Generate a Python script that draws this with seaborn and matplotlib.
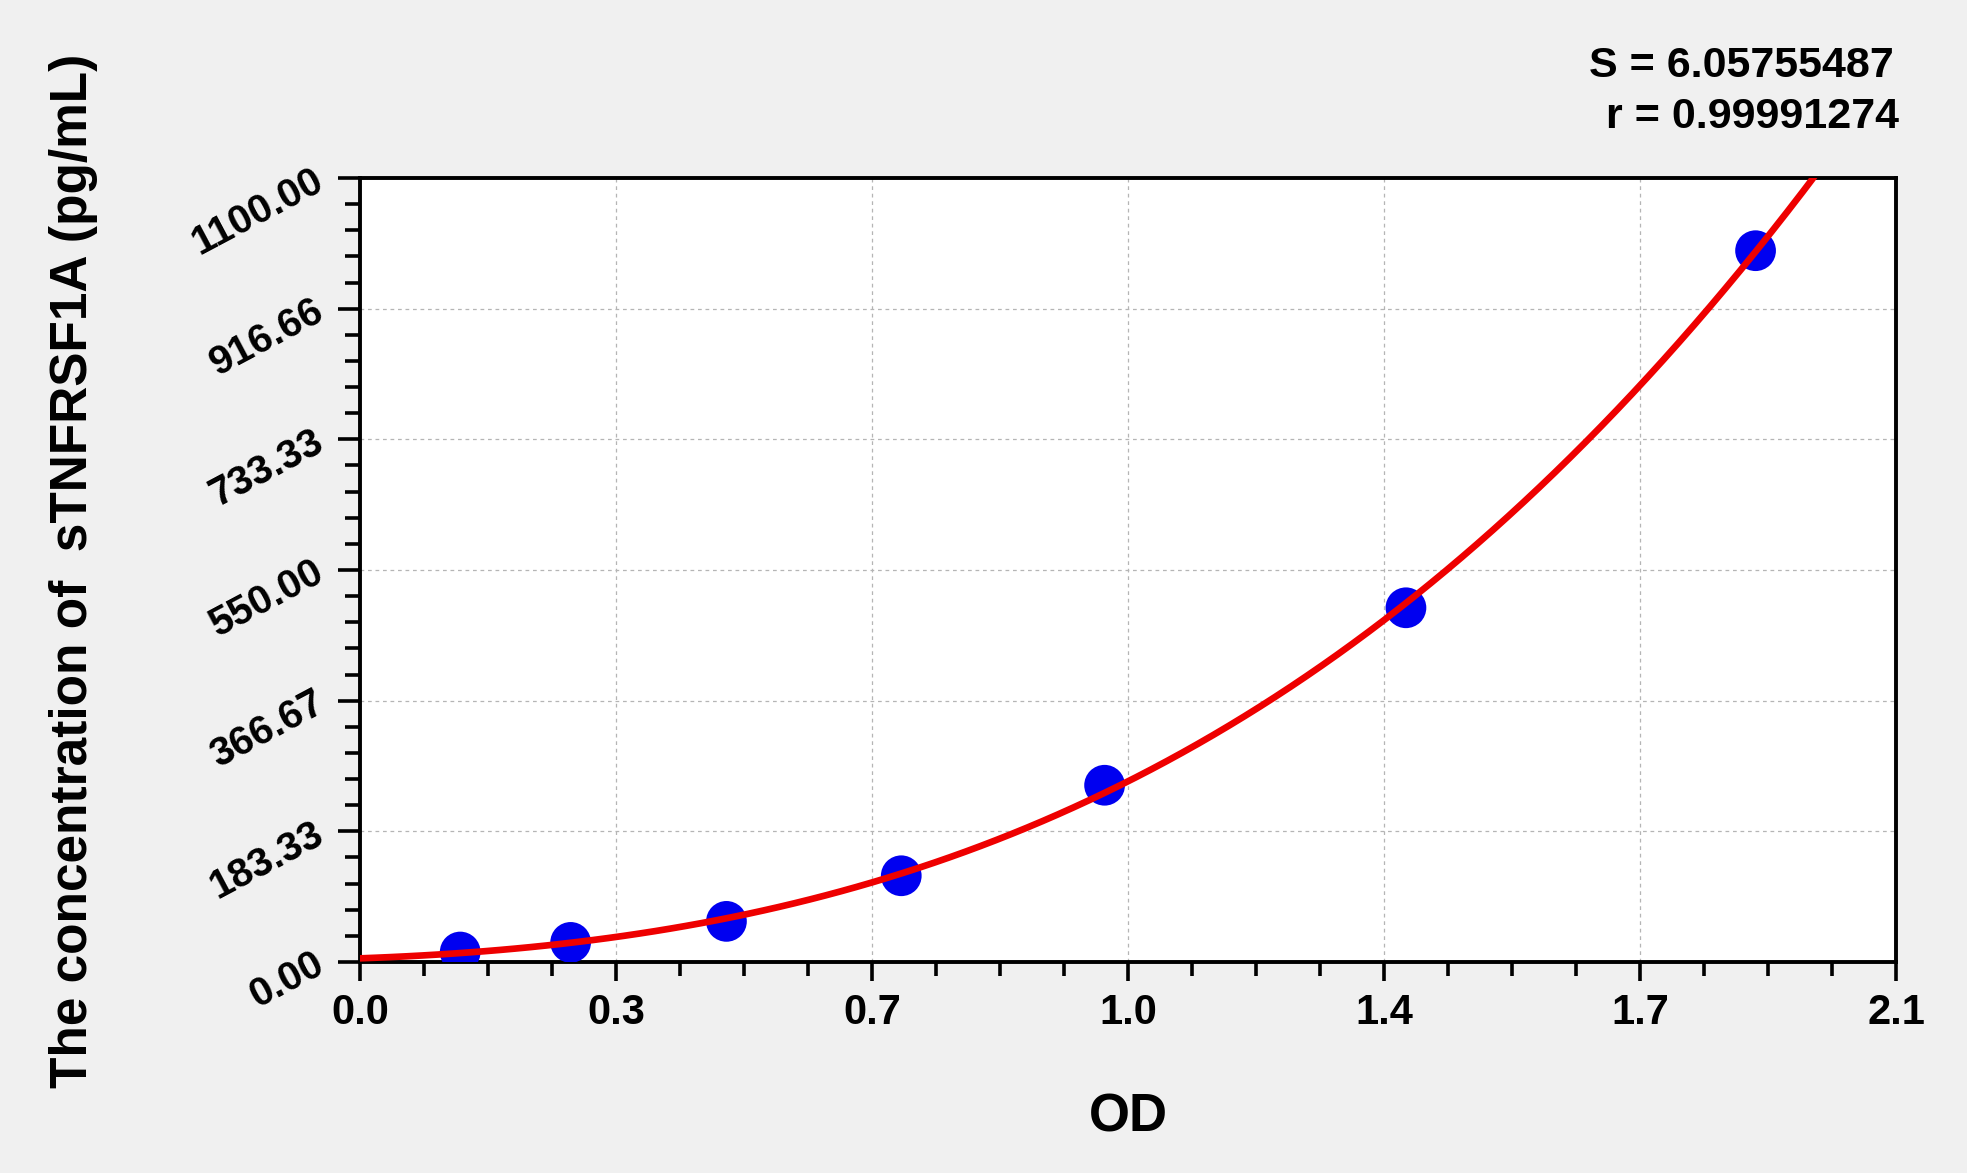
import numpy as np
import pandas as pd
import matplotlib
matplotlib.use("Agg")
import matplotlib.pyplot as plt
import seaborn as sns
from matplotlib.ticker import FixedLocator, MultipleLocator

# ── Data ──────────────────────────────────────────────────────────────────────

od = [0.137, 0.288, 0.501, 0.740, 1.018, 1.430, 1.908]
conc = [14.0, 27.5, 57.0, 121.0, 248.0, 497.0, 998.0]

x_ticks = [0.0, 0.35, 0.70, 1.05, 1.40, 1.75, 2.10]
x_labels = ["0.0", "0.3", "0.7", "1.0", "1.4", "1.7", "2.1"]
y_ticks = [0.0, 183.33, 366.67, 550.0, 733.33, 916.66, 1100.0]
y_labels = ["0.00", "183.33", "366.67", "550.00", "733.33", "916.66", "1100.00"]

stats_lines = ["S = 6.05755487", "r = 0.99991274"]
x_title = "OD"
y_title = "The concentration of  sTNFRSF1A (pg/mL)"

# ── Setup ──────────────────────────────────────────────────────────────────────

sns.set_style("ticks")
plt.rcParams["font.family"] = ["Liberation Sans Narrow", "Liberation Sans", "DejaVu Sans"]
plt.rcParams["font.weight"] = "bold"
plt.rcParams["text.color"] = "black"
plt.rcParams["xtick.color"] = "black"
plt.rcParams["ytick.color"] = "black"
plt.rcParams["axes.labelcolor"] = "black"

W, H = 1967, 1173
fig = plt.figure(figsize=(W / 100, H / 100), dpi=100, facecolor="#f0f0f0")
ax = fig.add_axes([360 / W, 1 - 962 / H, (1896 - 360) / W, (962 - 178) / H])
ax.set_facecolor("white")

ax.set_xlim(0, 2.1)
ax.set_ylim(0, 1100)

# ── Points + fitted curve ─────────────────────────────────────────────────────

df = pd.DataFrame({"od": od, "conc": conc})
sns.scatterplot(data=df, x="od", y="conc", s=860, color="#0000f0",
                edgecolor="none", zorder=3, ax=ax, legend=False)
sns.regplot(data=df, x="od", y="conc", order=3, ci=None, scatter=False,
            truncate=False, ax=ax,
            line_kws=dict(color="#ee0000", lw=4.8, zorder=4))

# ── Axes styling ───────────────────────────────────────────────────────────────

ax.xaxis.set_major_locator(FixedLocator(x_ticks))
ax.xaxis.set_minor_locator(MultipleLocator(0.0875))
ax.yaxis.set_major_locator(FixedLocator(y_ticks))
ax.yaxis.set_minor_locator(MultipleLocator(1100 / 30))
ax.set_xticklabels(x_labels, fontsize=30, fontweight="bold", color="black")
ax.set_yticklabels(y_labels, fontsize=29, fontweight="bold", color="black",
                   rotation=28, rotation_mode="anchor", ha="right", va="center")

ax.tick_params(axis="x", which="major", direction="out", length=14, width=2.6, pad=8)
ax.tick_params(axis="x", which="minor", direction="out", length=10, width=2.6)
ax.tick_params(axis="y", which="major", direction="out", length=16, width=2.6, pad=12)
ax.tick_params(axis="y", which="minor", direction="out", length=11, width=2.6)

for sp in ax.spines.values():
    sp.set_visible(True)
    sp.set_linewidth(2.8)
    sp.set_color("black")

ax.grid(True, which="major", color="#b5b5b5", linestyle=(0, (3, 3)), linewidth=0.9)
ax.set_axisbelow(True)
ax.set_xlabel("")
ax.set_ylabel("")

# ── Labels ─────────────────────────────────────────────────────────────────────

fig.text(1128 / W, 1 - 1118 / H, x_title, ha="center", va="center",
         fontsize=38, fontweight="bold", color="black")
fig.text(74 / W, 1 - 571 / H, y_title, ha="center", va="center",
         rotation=90, fontsize=37, fontweight="bold", color="black")
fig.text(1894 / W, 1 - 66 / H, stats_lines[0], ha="right", va="center",
         fontsize=31, fontweight="bold", color="black")
fig.text(1899 / W, 1 - 117 / H, stats_lines[1], ha="right", va="center",
         fontsize=31, fontweight="bold", color="black")

fig.savefig("out.png", dpi=100, facecolor=fig.get_facecolor())
